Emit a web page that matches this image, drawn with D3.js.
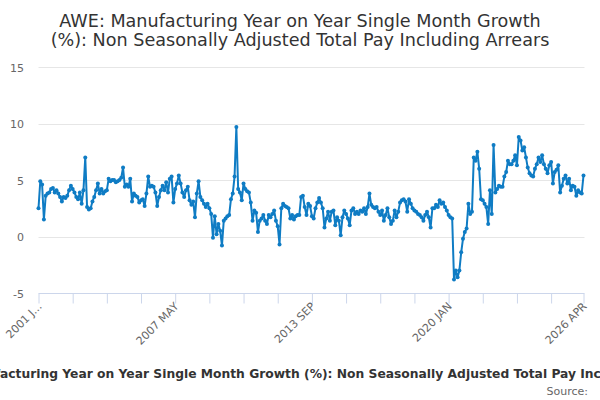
<!DOCTYPE html>
<html>
<head>
<meta charset="utf-8">
<script src="https://cdn.jsdelivr.net/npm/d3@7"></script>
<style>
body{margin:0;background:#fff}
text{font-family:"DejaVu Sans",sans-serif}
</style>
</head>
<body>
<script>
// monthly series, 2001 JAN .. 2026 APR
const startYear=2001
const monthNames=['JAN','FEB','MAR','APR','MAY','JUN','JUL','AUG','SEP','OCT','NOV','DEC']
const values2001_2005=[2.5,4.9,4.6,1.5,3.6,3.8,3.9,4.2,4.3,3.9,4.1,3.8,3.5,3.1,3.5,3.4,3.6,4.1,4.5,4.2,3.9,3.5,3.3,3.9,2.9,4.1,7.0,2.6,2.4,2.5,3.1,3.5,4.1,4.7,3.8,4.2,3.8,4.0,4.1,5.1,4.9,5.0,5.0,4.8,4.9,5.0,5.2,6.1,4.4]
const values2005_2009=[4.6,4.4,5.1,3.1,3.8,3.6,3.5,3.0,3.2,3.3,2.7,3.8,5.3,4.4,4.5,4.4,3.9,2.7,3.5,4.1,4.5,4.1,4.8,3.9,5.1,5.3,3.0,4.2,4.7,5.4,4.7,3.9,3.5,4.1,4.4,3.2,2.8,3.1,1.7,3.8,4.9,3.5,3.2,2.9,2.6,2.9,2.5,2.0,-0.1]
const values2009_2013=[1.8,0.2,1.1,0.5,-0.8,1.4,1.6,1.8,1.9,3.3,3.8,5.3,9.7,4.2,3.9,3.2,4.7,4.2,4.0,3.9,3.0,1.4,2.3,2.1,0.4,1.4,1.6,1.9,1.4,1.1,1.9,1.7,2.0,2.3,1.4,0.9,-0.7,2.5,2.9,2.7,2.6,2.5,1.6,1.9,1.5,1.8,1.9,1.9]
const values2013_2017=[3.5,3.6,2.6,1.9,2.9,2.7,1.8,1.6,2.5,3.0,3.4,3.0,2.5,0.8,1.6,2.2,1.4,2.2,2.3,1.0,1.7,1.4,0.1,1.7,2.3,2.0,1.6,1.0,2.3,2.5,2.0,2.2,2.0,2.3,2.2,2.5,2.0,2.6,3.8,2.8,2.6,2.5,2.6,2.2,1.9,2.3,1.4,1.9,2.5,1.7,1.1,1.4,2.3,1.7]
const values2017_2021=[2.2,3.0,3.2,3.3,3.1,2.2,3.3,2.9,2.5,2.3,2.2,2.0,1.9,1.7,1.4,1.9,2.2,1.7,0.8,2.5,2.5,2.8,2.6,3.2,2.9,3.0,2.6,2.3,1.9,1.7,1.6,-3.8,-3.0,-3.6,-3.0,-1.4,-0.2,0.4,0.7,2.9,2.0,2.2,7.0,6.7,7.5,6.0]
const values2021_2026=[3.3,3.2,2.9,2.6,1.1,4.1,2.0,8.1,3.9,4.2,4.5,4.4,4.4,5.3,5.7,6.7,6.4,6.4,6.7,7.2,6.3,8.8,8.5,7.6,7.9,7.0,6.1,5.6,5.4,5.3,6.0,6.4,7.0,6.6,7.2,6.4,6.0,5.6,6.3,6.6,4.7,5.7,5.9,6.3,3.9,4.5,5.1,5.4,4.7,5.1,4.1,4.5,4.4,3.6,4.1,3.9,3.8,5.4]
const values=[].concat(values2001_2005,values2005_2009,values2009_2013,values2013_2017,values2017_2021,values2021_2026)
const categories=values.map((v,i)=>(startYear+Math.floor(i/12))+' '+monthNames[i%12])
const yTicks=[-5,0,5,10,15]
const xLabelShown=['2001 J...','2007 MAY','2013 SEP','2020 JAN','2026 APR']

const titleLines=['AWE: Manufacturing Year on Year Single Month Growth','(%): Non Seasonally Adjusted Total Pay Including Arrears']
const caption='AWE: Manufacturing Year on Year Single Month Growth (%): Non Seasonally Adjusted Total Pay Including Arrears'

const width=600
const height=400
const plotLeft=38.5
const plotRight=583.5
const plotTop=67
const plotBottom=293

const svg=d3.select('body').append('svg').attr('width',width).attr('height',height)

const xScale=d3.scaleLinear().domain([0,values.length-1]).range([plotLeft,plotRight])
const yScale=d3.scaleLinear().domain([-5,15]).range([plotBottom,plotTop])

// title
svg.append('text').attr('x',width/2).attr('y',26.5)
   .attr('text-anchor','middle').style('font-size','17.6px').style('fill','#333')
   .selectAll('tspan').data(titleLines).enter().append('tspan')
   .attr('x',width/2).attr('dy',(d,i)=>i?19.5:0).text(d=>d)

// gridlines
svg.append('g').selectAll('line').data(yTicks.filter(d=>d>-5)).enter().append('line')
   .attr('x1',plotLeft).attr('x2',plotRight+1)
   .attr('y1',d=>Math.round(yScale(d))+0.5).attr('y2',d=>Math.round(yScale(d))+0.5)
   .attr('stroke','#e6e6e6').attr('stroke-width',1)

// y labels
svg.append('g').selectAll('text').data(yTicks).enter().append('text')
   .attr('x',24).attr('y',d=>yScale(d)+4.5).attr('text-anchor','end')
   .style('font-size','11px').style('fill','#666').text(d=>d)

// x axis
const tickIdx=d3.range(0,values.length,19).concat([values.length-1])
const labelIdx=[0,76,152,228,values.length-1]
const xAxis=d3.axisBottom(xScale).tickValues(tickIdx).tickSize(10).tickFormat('')
const gx=svg.append('g').attr('transform','translate(0,'+(Math.round(plotBottom)+0.5)+')').call(xAxis)
gx.select('.domain').attr('stroke','#ccd6eb').attr('d','M'+plotLeft+',0H'+(plotRight+1))
gx.selectAll('.tick line').attr('stroke','#ccd6eb')

svg.append('g').selectAll('text').data(labelIdx).enter().append('text')
   .attr('transform',(d,i)=>'translate('+(xScale(d)+4)+','+(plotBottom+14)+') rotate(-45)')
   .attr('text-anchor','end').style('font-size','11px').style('fill','#666')
   .text((d,i)=>xLabelShown[i])
   .append('title').text(d=>categories[d])

// series
const line=d3.line().x((d,i)=>xScale(i)).y(d=>yScale(d))
svg.append('path').datum(values).attr('d',line)
   .attr('fill','none').attr('stroke','#0f7cc4').attr('stroke-width',2)
   .attr('stroke-linejoin','round')
svg.append('g').selectAll('circle').data(values).enter().append('circle')
   .attr('cx',(d,i)=>xScale(i)).attr('cy',d=>yScale(d)).attr('r',2)
   .attr('fill','#0f7cc4')
   .append('title').text((d,i)=>categories[i]+': '+d)

// caption under the chart (overflows the frame, as in the source)
const cap=svg.append('text').attr('y',377.5).style('font-size','12.3px')
   .style('font-weight','bold').style('fill','#333')
const probe=svg.append('text').style('font-size','12.3px').style('font-weight','bold')
   .text('AWE: Manuf')
const shift=probe.node().getComputedTextLength()
probe.remove()
cap.attr('x',-shift).text(caption)

svg.append('text').attr('x',588).attr('y',395).attr('text-anchor','end')
   .style('font-size','11px').style('fill','#666').text('Source:')
</script>
</body>
</html>
